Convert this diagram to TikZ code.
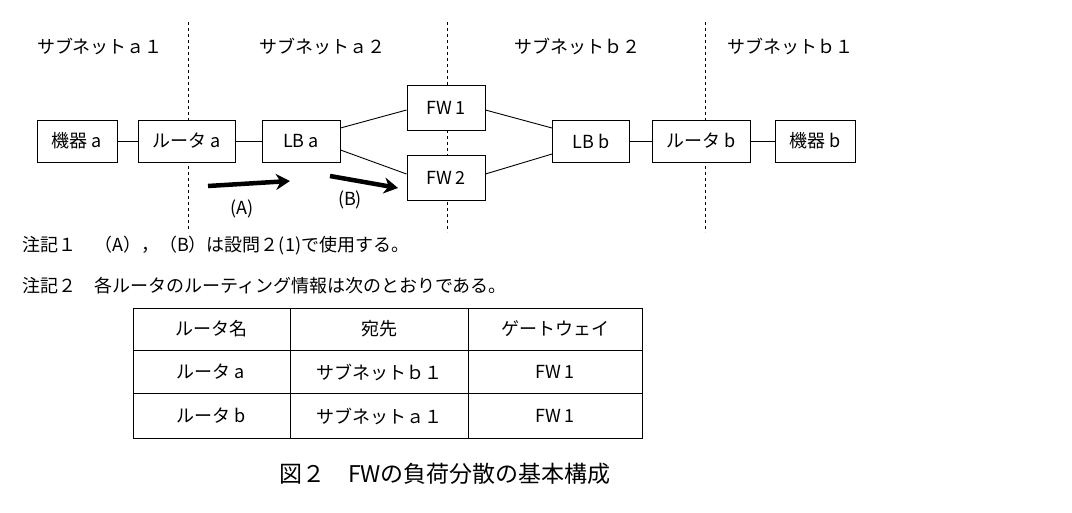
\documentclass[tikz,border=0pt]{standalone}
\usepackage{fontspec}
\setmainfont{Noto Sans CJK JP}
\usetikzlibrary{arrows.meta}
\begin{document}
\begin{tikzpicture}[x=1pt,y=-1pt,
  box/.style={draw,line width=0.9pt,minimum height=42pt,inner sep=2pt,font=\fontsize{18}{20}\selectfont},
  lbl/.style={font=\fontsize{18}{20}\selectfont,inner sep=0pt},
  dv/.style={dashed,line width=0.9pt},
  ln/.style={line width=0.9pt},
  big/.style={line width=4.5pt,-{Stealth[length=14pt,width=16pt]}}]
\useasboundingbox (0,0) rectangle (1072,512);
\draw[dv] (188,22) coordinate (d1a) -- (188,232) coordinate (d1b);
\draw[dv] (447,22) coordinate (d2a) -- (447,232) coordinate (d2b);
\draw[dv] (705,22) coordinate (d3a) -- (705,232) coordinate (d3b);
\node[lbl] (h1) at (100,46) {サブネットａ１};
\node[lbl] (h2) at (322,46) {サブネットａ２};
\node[lbl] (h3) at (577,46) {サブネットｂ２};
\node[lbl] (h4) at (790,46) {サブネットｂ１};
\node[box,minimum width=80pt] (ka) at (77,141) {機器 a};
\node[box,minimum width=97pt,fill=white] (ra) at (187,141) {ルータ a};
\node[box,minimum width=78pt] (lba) at (301,141) {LB a};
\node[box,minimum width=78pt,minimum height=45pt,fill=white] (fw1) at (446,108) {FW 1};
\node[box,minimum width=78pt,minimum height=45pt,fill=white] (fw2) at (446,178) {FW 2};
\node[box,minimum width=77pt] (lbb) at (591,141) {LB b};
\node[box,minimum width=98pt,fill=white] (rb) at (701,141) {ルータ b};
\node[box,minimum width=80pt] (kb) at (815,141) {機器 b};
\draw[ln] (ka) -- (ra);
\draw[ln] (ra) -- (lba);
\draw[ln] (lba.east|-0,128) -- (fw1.west|-0,110);
\draw[ln] (lba.east|-0,150) -- (fw2.west|-0,174);
\draw[ln] (fw1.east|-0,110) -- (lbb.west|-0,128);
\draw[ln] (fw2.east|-0,174) -- (lbb.west|-0,154);
\draw[ln] (lbb) -- (rb);
\draw[ln] (rb) -- (kb);
\coordinate (a1) at (208,186); \coordinate (a2) at (290,181);
\coordinate (b1) at (330,176); \coordinate (b2) at (398,188);
\draw[big] (a1) -- (a2);
\draw[big] (b1) -- (b2);
\node[lbl] (la) at (242,209) {(A)};
\node[lbl] (lb) at (350,200) {(B)};
\node[lbl,anchor=west] (n1) at (22,246) {注記１\quad（A），（B）は設問２(1)で使用する。};
\node[lbl,anchor=west] (n2) at (22,286) {注記２\quad 各ルータのルーティング情報は次のとおりである。};
\draw[ln] (133,308) rectangle (642,438);
\draw[ln] (133,350) -- (642,350);
\draw[ln] (133,393) -- (642,393);
\draw[ln] (290,308) -- (290,438);
\draw[ln] (468,308) -- (468,438);
\node[lbl] (t11) at (211,329) {ルータ名};
\node[lbl] (t12) at (379,329) {宛先};
\node[lbl] (t13) at (555,329) {ゲートウェイ};
\node[lbl] (t21) at (211,372) {ルータ a};
\node[lbl] (t22) at (379,372) {サブネットｂ１};
\node[lbl] (t23) at (555,372) {FW 1};
\node[lbl] (t31) at (211,416) {ルータ b};
\node[lbl] (t32) at (379,416) {サブネットａ１};
\node[lbl] (t33) at (555,416) {FW 1};
\node[lbl,font=\fontsize{23}{26}\selectfont] (cap) at (445,474) {図２\quad FWの負荷分散の基本構成};
\end{tikzpicture}
\end{document}
